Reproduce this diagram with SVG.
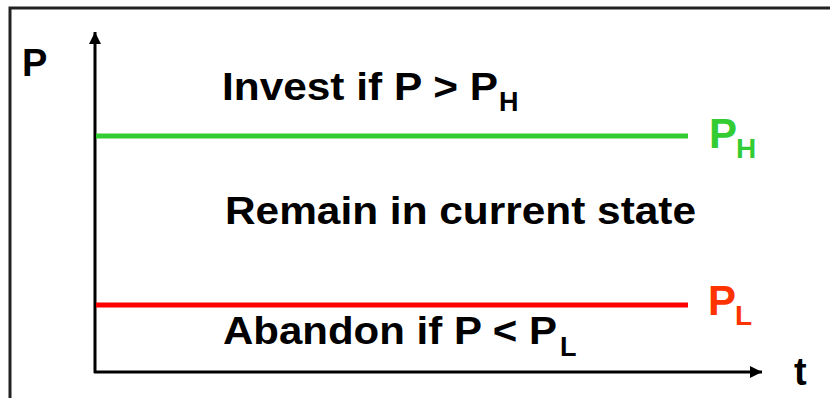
<svg xmlns="http://www.w3.org/2000/svg" width="830" height="398" viewBox="0 0 830 398">
<style>
text{font-family:"Liberation Sans",Arial,Helvetica,sans-serif;font-weight:bold}
.lbl{font-size:38px;fill:#000}
.sub{font-size:27px}
.axis{stroke:#000;stroke-width:3;fill:none}
</style>
<defs>
<marker id="ah" viewBox="0 0 10 10" refX="10" refY="5" markerWidth="4" markerHeight="4" orient="auto" markerUnits="strokeWidth">
<path d="M0,0 L10,5 L0,10 z" fill="#000"/>
</marker>
</defs>
<rect width="830" height="398" fill="#fff"/>
<g id="frame">
<path d="M10,398 V8 H830" stroke="#222" stroke-width="3" fill="none"/>
</g>
<g id="connectors">
<line class="axis" x1="95" y1="373" x2="95" y2="32" marker-end="url(#ah)"/>
<line class="axis" x1="94" y1="372" x2="762" y2="372" marker-end="url(#ah)"/>
<line x1="96" y1="136" x2="688" y2="136" stroke="#33cc33" stroke-width="5"/>
<line x1="96" y1="305" x2="688" y2="305" stroke="#ff0000" stroke-width="5"/>
</g>
<g id="axis-labels">
<text class="lbl" x="22" y="76">P</text>
<text class="lbl" x="794" y="385">t</text>
</g>
<g id="invest">
<text class="lbl" x="222" y="100" textLength="276" lengthAdjust="spacingAndGlyphs">Invest if P &gt; P</text>
<text class="lbl sub" x="499" y="111">H</text>
</g>
<g id="remain">
<text class="lbl" x="225" y="224" textLength="471" lengthAdjust="spacingAndGlyphs">Remain in current state</text>
</g>
<g id="abandon">
<text class="lbl" x="223" y="344" textLength="334" lengthAdjust="spacingAndGlyphs">Abandon if P &lt; P</text>
<text class="lbl sub" x="560" y="356">L</text>
</g>
<g id="PH">
<text x="709" y="148" font-size="42" fill="#33cc33">P</text>
<text x="736" y="158" font-size="28" fill="#33cc33">H</text>
</g>
<g id="PL">
<text x="708" y="315" font-size="42" fill="#ff3300">P</text>
<text x="735" y="325" font-size="28" fill="#ff3300">L</text>
</g>
</svg>
